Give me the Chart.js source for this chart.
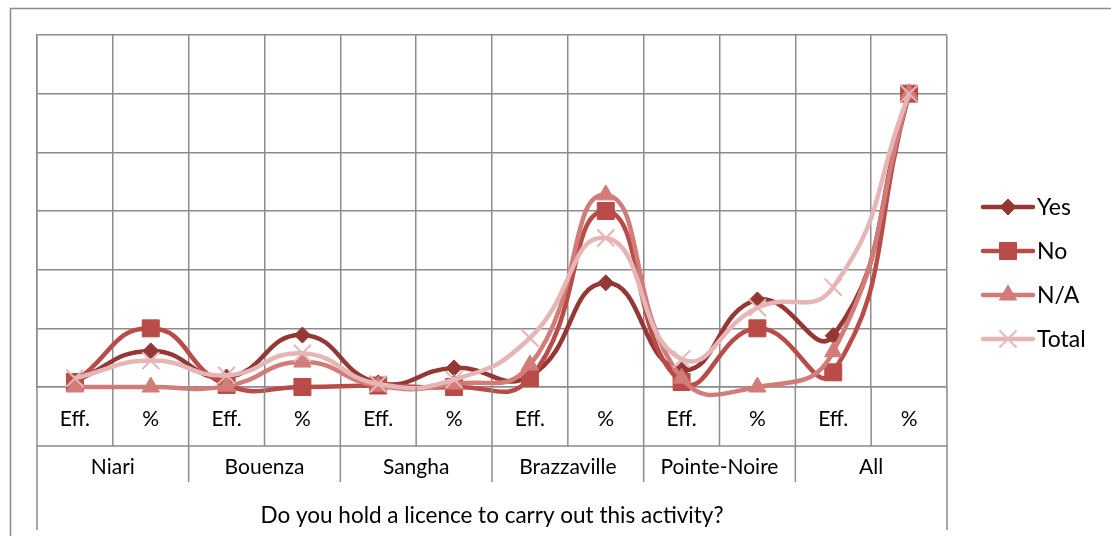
<!DOCTYPE html>
<html>
<head>
<meta charset="utf-8">
<script src="https://cdn.jsdelivr.net/npm/chart.js@4/dist/chart.umd.min.js"></script>
<style>
  html, body { margin: 0; padding: 0; background: #fff; }
  #wrap { position: relative; width: 1111px; height: 536px; }
</style>
</head>
<body>
<div id="wrap"><canvas id="c" width="1111" height="536"></canvas></div>
<script>
// Sub-columns under each region, and the regions themselves
const subLabels = ['Eff.', '%', 'Eff.', '%', 'Eff.', '%', 'Eff.', '%', 'Eff.', '%', 'Eff.', '%'];
const regions = ['Niari', 'Bouenza', 'Sangha', 'Brazzaville', 'Pointe-Noire', 'All'];
const axisTitle = 'Do you hold a licence to carry out this activity?';

// Series values (counts for Eff., shares for %)
const yesValues   = [2, 12.3, 3.4, 17.7, 1.4, 6.5, 3.7, 35.5, 5.8, 29.7, 17.5, 100];
const noValues    = [1.7, 20, 0.7, 0, 0.5, 0, 3, 60, 1.7, 20, 5, 100];
const naValues    = [0, 0, 0.3, 8.5, 0.3, 1, 7.5, 65.5, 3, 0, 12, 100];
const totalValues = [3, 9, 4, 11.5, 1, 2.5, 16.7, 50.8, 9.5, 27, 34, 100];

const seriesNames = ['Yes', 'No', 'N/A', 'Total'];
const seriesColors = ['#953735', '#b94b48', '#d27c7a', '#e5b6b5'];
const seriesMarkers = ['rectRot', 'rect', 'triangle', 'crossRot'];
const markerSizes = [8, 12, 10, 12];

const FONT = 'Lato, "Open Sans", sans-serif';
const GRID = '#8c8c8c';

const datasets = [yesValues, noValues, naValues, totalValues].map((vals, i) => ({
  label: seriesNames[i],
  data: vals,
  borderColor: seriesColors[i],
  backgroundColor: seriesColors[i],
  pointBackgroundColor: seriesColors[i],
  pointBorderColor: seriesColors[i],
  pointStyle: seriesMarkers[i],
  pointRadius: markerSizes[i],
  pointBorderWidth: i === 3 ? 2 : 1,
  borderWidth: 4.5,
  tension: 0.5,
  cubicInterpolationMode: 'default',
  capBezierPoints: false,
  clip: false,
  order: 4 - i
}));

// Table-style category axis, outer frame and legend
const tablePlugin = {
  id: 'tableAxis',
  afterDraw(chart) {
    const ctx = chart.ctx;
    const x = chart.scales.x;
    const area = chart.chartArea;
    const n = subLabels.length;
    const colW = (area.right - area.left) / n;
    const row1 = area.bottom + 59;
    const row2 = row1 + 36;
    const bottomEnd = 530;

    ctx.save();
    ctx.strokeStyle = GRID;
    ctx.lineWidth = 1.5;

    // outer frame
    ctx.beginPath();
    ctx.moveTo(10.5, 540);
    ctx.lineTo(10.5, 8.5);
    ctx.lineTo(1120, 8.5);
    ctx.stroke();

    // sub-label row
    ctx.beginPath();
    for (let i = 0; i <= n; i++) {
      const gx = area.left + i * colW;
      ctx.moveTo(gx, area.bottom);
      ctx.lineTo(gx, row1);
    }
    ctx.moveTo(area.left, row1);
    ctx.lineTo(area.right, row1);
    // region row separators
    for (let r = 0; r <= regions.length; r++) {
      const gx = area.left + r * 2 * colW;
      ctx.moveTo(gx, row1);
      ctx.lineTo(gx, (r === 0 || r === regions.length) ? bottomEnd : row2);
    }
    ctx.stroke();

    ctx.fillStyle = '#000';
    ctx.textAlign = 'center';
    ctx.textBaseline = 'middle';
    ctx.font = '21px ' + FONT;
    subLabels.forEach((t, i) => {
      ctx.fillText(t, x.getPixelForValue(i), area.bottom + 32);
    });
    regions.forEach((t, r) => {
      ctx.fillText(t, area.left + (r * 2 + 1) * colW, row1 + 21);
    });
    ctx.font = '22.5px ' + FONT;
    ctx.fillText(axisTitle, (area.left + area.right) / 2, 516);

    // legend
    const lx = 983, ly = 207, gap = 44;
    seriesNames.forEach((name, i) => {
      const y = ly + i * gap;
      ctx.strokeStyle = seriesColors[i];
      ctx.lineWidth = 4.5;
      ctx.lineCap = 'round';
      ctx.beginPath();
      ctx.moveTo(lx, y);
      ctx.lineTo(lx + 50, y);
      ctx.stroke();
      ctx.lineCap = 'butt';
      ctx.fillStyle = seriesColors[i];
      ctx.strokeStyle = seriesColors[i];
      ctx.lineWidth = i === 3 ? 2 : 1;
      Chart.helpers.drawPoint(ctx, {
        pointStyle: seriesMarkers[i],
        radius: markerSizes[i],
        borderWidth: i === 3 ? 2 : 1,
        rotation: 0
      }, lx + 25, y);
      ctx.fillStyle = '#000';
      ctx.textAlign = 'left';
      ctx.font = '23px ' + FONT;
      ctx.fillText(name, lx + 54, y + 1);
    });
    ctx.restore();
  }
};

new Chart(document.getElementById('c'), {
  type: 'line',
  data: { labels: subLabels, datasets },
  options: {
    responsive: false,
    animation: false,
    layout: { padding: { left: 37, right: 164, top: 35, bottom: 149 } },
    plugins: { legend: { display: false }, tooltip: { enabled: false } },
    scales: {
      x: {
        type: 'category',
        offset: true,
        grid: { offset: true, color: GRID, lineWidth: 1.5, drawTicks: false },
        border: { display: true, color: GRID, width: 1.5 },
        ticks: { display: false },
        afterFit(s) { s.height = 0; }
      },
      y: {
        min: 0, max: 120,
        ticks: { display: false, stepSize: 20 },
        grid: { color: GRID, lineWidth: 1.5, drawTicks: false },
        border: { display: true, color: GRID, width: 1.5 },
        afterFit(s) { s.width = 0; }
      }
    }
  },
  plugins: [tablePlugin]
});
</script>
</body>
</html>
